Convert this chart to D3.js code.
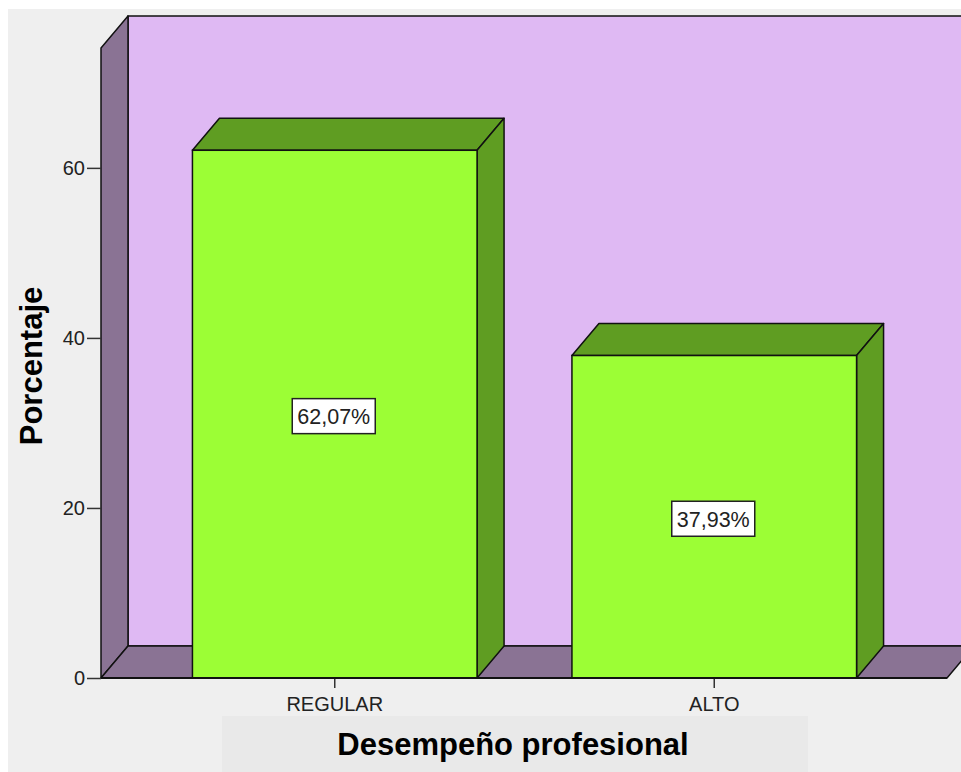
<!DOCTYPE html>
<html><head><meta charset="utf-8">
<script src="https://cdn.jsdelivr.net/npm/d3@7"></script>
<style>body{margin:0;background:#fff}svg{display:block}</style>
</head><body>
<svg id="c" width="961" height="772"></svg>
<script>
const categories = ["REGULAR", "ALTO"];
const values = [62.07, 37.93];
const valueLabels = ["62,07%", "37,93%"];
const yTicks = [0, 20, 40, 60];
const xTitle = "Desempeño profesional";
const yTitle = "Porcentaje";

(function () {
const svg = d3.select("#c");
const DX = 27, DY = -32;
const left = 101, right = 947, bottom = 678;
const FONT = "Arial, 'Liberation Sans', sans-serif";

svg.append("rect").attr("x", 8).attr("y", 9).attr("width", 953).attr("height", 763).attr("fill", "#efefef");
svg.append("rect").attr("x", 222).attr("y", 716).attr("width", 586).attr("height", 56).attr("fill", "#e9e9e9");

const y = d3.scaleLinear().domain([0, 74.1]).range([bottom, 48]);
const x = d3.scaleBand().domain(categories).range([145, 904]).paddingInner(0.25).paddingOuter(0.125);

const yTop = y.range()[1];
const stroke = "#111", sw = 1.5;
// back wall
svg.append("rect").attr("x", left + DX).attr("y", yTop + DY).attr("width", right - left + 10).attr("height", bottom - yTop)
  .attr("fill", "#dfb9f3").attr("stroke", stroke).attr("stroke-width", sw);
// left wall
svg.append("polygon").attr("points", [[left, yTop], [left + DX, yTop + DY], [left + DX, bottom + DY], [left, bottom]].join(" "))
  .attr("fill", "#8a7394").attr("stroke", stroke).attr("stroke-width", sw).attr("stroke-linejoin", "round");
// floor
svg.append("polygon").attr("points", [[left, bottom], [left + DX, bottom + DY], [right + DX, bottom + DY], [right, bottom]].join(" "))
  .attr("fill", "#8a7394").attr("stroke", stroke).attr("stroke-width", sw).attr("stroke-linejoin", "round");

// bars
const bars = svg.append("g");
categories.forEach((c, i) => {
  const x0 = x(c), w = x.bandwidth(), yt = y(values[i]);
  const g = bars.append("g");
  g.append("polygon").attr("points", [[x0, yt], [x0 + DX, yt + DY], [x0 + w + DX, yt + DY], [x0 + w, yt]].join(" "))
    .attr("fill", "#5f9d22").attr("stroke", stroke).attr("stroke-width", sw).attr("stroke-linejoin", "round");
  g.append("polygon").attr("points", [[x0 + w, yt], [x0 + w + DX, yt + DY], [x0 + w + DX, bottom + DY], [x0 + w, bottom]].join(" "))
    .attr("fill", "#5f9d22").attr("stroke", stroke).attr("stroke-width", sw).attr("stroke-linejoin", "round");
  g.append("rect").attr("x", x0).attr("y", yt).attr("width", w).attr("height", bottom - yt)
    .attr("fill", "#9cfe35").attr("stroke", stroke).attr("stroke-width", sw);
  const cx = x0 + w / 2 - 1, cy = (yt + bottom) / 2 + 2;
  g.append("rect").attr("x", cx - 41.5).attr("y", cy - 17.5).attr("width", 83).attr("height", 35)
    .attr("fill", "#fff").attr("stroke", "#222").attr("stroke-width", 1.5);
  g.append("text").attr("x", cx).attr("y", cy + 8).attr("text-anchor", "middle")
    .attr("font-family", FONT).attr("font-size", 21.5).attr("fill", "#222").text(valueLabels[i]);
});

// y axis
const ya = svg.append("g").attr("transform", `translate(${left},0)`)
  .call(d3.axisLeft(y).tickValues(yTicks).tickSize(14).tickPadding(2));
ya.select(".domain").remove();
ya.selectAll(".tick line").attr("stroke", "#333").attr("stroke-width", 1.5);
ya.selectAll(".tick text").attr("font-family", FONT).attr("font-size", 20).attr("fill", "#222");

// x axis
const xa = svg.append("g").attr("transform", `translate(0,${bottom})`)
  .call(d3.axisBottom(x).tickSize(10).tickPadding(9));
xa.select(".domain").remove();
xa.selectAll(".tick line").attr("stroke", "#333").attr("stroke-width", 1.5);
xa.selectAll(".tick text").attr("font-family", FONT).attr("font-size", 20).attr("fill", "#222");
svg.append("line").attr("x1", left).attr("x2", right).attr("y1", bottom).attr("y2", bottom).attr("stroke", stroke).attr("stroke-width", 2);

// titles
svg.append("text").attr("x", 513).attr("y", 755).attr("text-anchor", "middle")
  .attr("font-family", FONT).attr("font-weight", "bold").attr("font-size", 31).attr("fill", "#000").text(xTitle);
svg.append("text").attr("transform", "translate(42,366) rotate(-90)").attr("text-anchor", "middle")
  .attr("font-family", FONT).attr("font-weight", "bold").attr("font-size", 31).attr("fill", "#000").text(yTitle);
})();
</script>
</body></html>
